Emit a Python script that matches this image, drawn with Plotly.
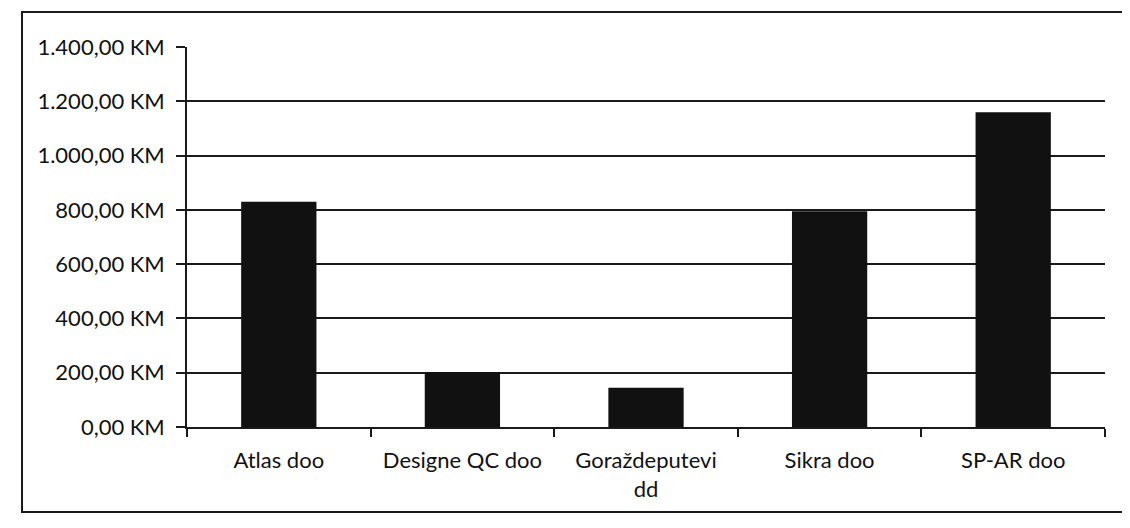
import plotly.graph_objects as go

categories = ["Atlas doo", "Designe QC doo", "Goraždeputevi<br>dd", "Sikra doo", "SP-AR doo"]
values = [830, 203, 145, 795, 1160]
tick_vals = [0, 200, 400, 600, 800, 1000, 1200, 1400]
tick_text = ["0,00 KM", "200,00 KM", "400,00 KM", "600,00 KM", "800,00 KM",
             "1.000,00 KM", "1.200,00 KM", "1.400,00 KM"]

fig = go.Figure()
fig.add_trace(go.Bar(x=categories, y=values, marker=dict(color="#111111", line=dict(width=0))))

OFF = 8  # page body margin
W, H = 1122, 520
L, R, T, B = 179, 25, 39, 101
pw = W - L - R
ph = H - T - B

fig.update_layout(
    width=W, height=H,
    margin=dict(l=L, r=R, t=T, b=B, autoexpand=False),
    paper_bgcolor="white", plot_bgcolor="white",
    bargap=0.59,
    showlegend=False,
    font=dict(family="Lato, 'Open Sans', sans-serif", size=22, color="#111"),
    xaxis=dict(
        automargin=False,
        showgrid=False, showline=True, linecolor="#1a1a1a", linewidth=1.6,
        ticks="outside", tickson="boundaries", ticklen=8, tickcolor="#1a1a1a", tickwidth=1.6,
        ticklabelstandoff=13,
        tickfont=dict(size=22),
    ),
    yaxis=dict(
        automargin=False,
        range=[0, 1400], tickvals=tick_vals, ticktext=tick_text,
        showgrid=True, gridcolor="#1a1a1a", gridwidth=1.6,
        showline=True, linecolor="#1a1a1a", linewidth=1.6,
        ticks="outside", ticklen=9, tickcolor="#1a1a1a", tickwidth=1.6,
        ticklabelstandoff=7,
        zeroline=False,
        tickfont=dict(size=22),
    ),
    shapes=[dict(
        type="rect", xref="paper", yref="paper",
        x0=(22 - OFF - L) / pw, x1=(1123 - OFF - L) / pw,
        y0=(T + ph - (512 - OFF)) / ph, y1=(T + ph - (12 - OFF)) / ph,
        line=dict(color="#1a1a1a", width=2), fillcolor="rgba(0,0,0,0)",
    )],
)

fig.write_html("out.html")
